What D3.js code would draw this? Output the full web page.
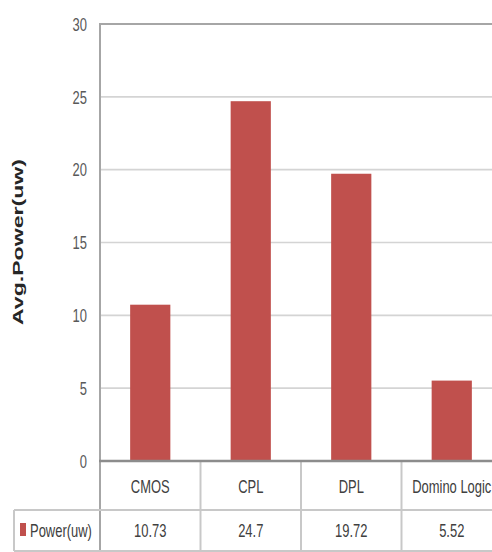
<!DOCTYPE html>
<html>
<head>
<meta charset="utf-8">
<script src="https://cdn.jsdelivr.net/npm/d3@7"></script>
<style>
  html, body { margin: 0; padding: 0; background: #fff; }
  svg { display: block; }
  text { font-family: "Liberation Sans", Arial, sans-serif; }
</style>
</head>
<body>
<svg id="chart" width="492" height="552"></svg>
<script>
// Average power per logic style
const categories = ["CMOS", "CPL", "DPL", "Domino Logic"];
const powerValues = [10.73, 24.7, 19.72, 5.52];
const valueLabels = ["10.73", "24.7", "19.72", "5.52"];
const yTicks = [0, 5, 10, 15, 20, 25, 30];
const seriesName = "Power(uw)";
const yTitle = "Avg.Power(uw)";

const W = 492, H = 552;
const plot = { left: 100, right: 502, top: 24, bottom: 461 };
const table = { left: 14, row1: 461, row2: 510, bottom: 551 };
const squeeze = 0.72;           // narrow text face
const fontPx = 18;
const barColor = "#c0504d";

const svg = d3.select("#chart");

const x = d3.scaleBand().domain(categories).range([plot.left, plot.right]).padding(0);
const y = d3.scaleLinear().domain([0, 30]).range([plot.bottom, plot.top]);
const barW = x.bandwidth() * 0.4;

// gridlines
svg.append("g").selectAll("line")
  .data(yTicks.filter(t => t > 0 && t < 30))
  .join("line")
  .attr("x1", plot.left).attr("x2", W)
  .attr("y1", d => y(d)).attr("y2", d => y(d))
  .attr("stroke", "#d4d4d4").attr("stroke-width", 1.6);

// top border line
svg.append("line")
  .attr("x1", plot.left).attr("x2", W)
  .attr("y1", y(30)).attr("y2", y(30))
  .attr("stroke", "#a6a6a6").attr("stroke-width", 2.2);

// bars
svg.append("g").selectAll("rect")
  .data(categories.map((c, i) => ({ c, v: powerValues[i] })))
  .join("rect")
  .attr("x", d => x(d.c) + (x.bandwidth() - barW) / 2)
  .attr("width", barW)
  .attr("y", d => y(d.v))
  .attr("height", d => y(0) - y(d.v))
  .attr("fill", barColor);

// y axis
const yAxis = svg.append("g")
  .attr("transform", `translate(${plot.left},0)`)
  .call(d3.axisLeft(y).tickValues(yTicks).tickSize(0).tickFormat(d3.format("d")));
yAxis.select(".domain").remove();
yAxis.selectAll("text")
  .attr("x", null).attr("dy", "0.35em")
  .attr("transform", `translate(-13,0) scale(${squeeze},1)`)
  .attr("fill", "#595959")
  .style("font-size", fontPx + "px");

// left axis line
svg.append("line")
  .attr("x1", plot.left).attr("x2", plot.left)
  .attr("y1", plot.top - 1).attr("y2", table.bottom)
  .attr("stroke", "#a6a6a6").attr("stroke-width", 2);

// data table grid
const tableLine = "#c8c8c8";
const tg = svg.append("g");
categories.slice(1).forEach(c => {
  tg.append("line")
    .attr("x1", x(c)).attr("x2", x(c))
    .attr("y1", table.row1).attr("y2", table.bottom)
    .attr("stroke", tableLine).attr("stroke-width", 2);
});
[table.row2, table.bottom].forEach(yy => {
  tg.append("line")
    .attr("x1", table.left).attr("x2", W)
    .attr("y1", yy).attr("y2", yy)
    .attr("stroke", tableLine).attr("stroke-width", 2);
});
tg.append("line")
  .attr("x1", table.left).attr("x2", table.left)
  .attr("y1", table.row2).attr("y2", table.bottom)
  .attr("stroke", tableLine).attr("stroke-width", 2);

// baseline
svg.append("line")
  .attr("x1", plot.left - 1).attr("x2", W)
  .attr("y1", y(0)).attr("y2", y(0))
  .attr("stroke", "#8c8c8c").attr("stroke-width", 2.4);

// header row: category names; second row: values
function narrowText(g, tx, ty, str, fill) {
  return g.append("text")
    .attr("transform", `translate(${tx},${ty}) scale(${squeeze},1)`)
    .attr("text-anchor", "middle")
    .attr("dy", "0.35em")
    .attr("fill", fill)
    .style("font-size", fontPx + "px")
    .text(str);
}
categories.forEach((c, i) => {
  narrowText(svg, x(c) + x.bandwidth() / 2, 487, c, "#404040");
  narrowText(svg, x(c) + x.bandwidth() / 2, 531, valueLabels[i], "#404040");
});

// legend key and series name
svg.append("rect")
  .attr("x", 20).attr("y", 523)
  .attr("width", 6).attr("height", 13)
  .attr("fill", barColor);
svg.append("text")
  .attr("transform", `translate(30,531) scale(${squeeze},1)`)
  .attr("dy", "0.35em")
  .attr("fill", "#404040")
  .style("font-size", fontPx + "px")
  .text(seriesName);

// y axis title
svg.append("text")
  .attr("transform", "translate(18,242) rotate(-90)")
  .attr("text-anchor", "middle")
  .attr("dy", "0.35em")
  .attr("fill", "#262626")
  .attr("textLength", 166)
  .attr("lengthAdjust", "spacingAndGlyphs")
  .style("font-size", "14px")
  .style("font-weight", "bold")
  .text(yTitle);
</script>
</body>
</html>
